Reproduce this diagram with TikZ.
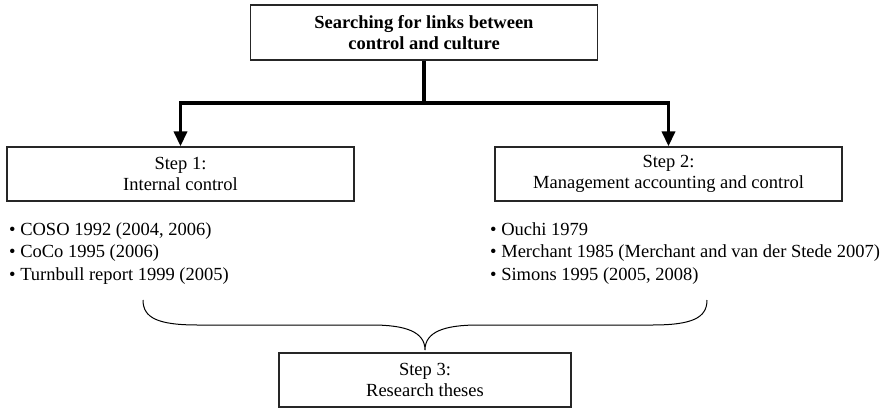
\documentclass[tikz,border=0pt]{standalone}
\usepackage{fontspec}
\setmainfont{Liberation Serif}
\usetikzlibrary{arrows.meta}
\begin{document}
\begin{tikzpicture}[x=1pt,y=-1pt,
  stepbox/.style={draw=black!85,line width=1.3pt,minimum width=347pt,minimum height=54pt,
    inner sep=0pt,align=center,font=\fontsize{18.5}{21}\selectfont},
  flow/.style={line width=3.5pt,black},
  flowarrow/.style={flow,-{Triangle[length=15pt,width=13pt]}},
  itemlist/.style={anchor=north west,inner sep=0pt,align=left,
    font=\fontsize{18.5}{22.5}\selectfont},
  bracket/.style={line width=1pt,black}]
\useasboundingbox (0,0) rectangle (895,408);

% boxes
\node[stepbox,minimum height=55pt] (top) at (424,32.5)
  {\textbf{Searching for links between}\\\textbf{control and culture}};
\node[stepbox] (s1) at (180.5,174) {Step 1:\\Internal control};
\node[stepbox] (s2) at (668.5,174) {Step 2:\\Management accounting and control};
\node[stepbox,minimum width=292pt] (s3) at (425,380) {Step 3:\\Research theses};

% branching connector
\coordinate (j) at (424,103);
\draw[flow] (top.south) -- (j);
\draw[flowarrow] (j) -| (s1.north);
\draw[flowarrow] (j) -| (s2.north);

% literature lists
\node[itemlist] (l1) at (9,222)
  {\textbullet\ COSO 1992 (2004, 2006)\\
   \textbullet\ CoCo 1995 (2006)\\
   \textbullet\ Turnbull report 1999 (2005)};
\node[itemlist] (l2) at (490,222)
  {\textbullet\ Ouchi 1979\\
   \textbullet\ Merchant 1985 (Merchant and van der Stede 2007)\\
   \textbullet\ Simons 1995 (2005, 2008)};

% brace joining both lists into step 3
\coordinate (bl) at (143,300);
\coordinate (br) at (707,300);
\coordinate (tip) at (425,350);
\draw[bracket] (bl) .. controls (143,318) and (158,325) .. (198,325)
  -- (372,325) .. controls (406,325) and (425,332) .. (tip)
  .. controls (425,332) and (444,325) .. (478,325)
  -- (652,325) .. controls (692,325) and (707,318) .. (br);
\end{tikzpicture}
\end{document}
